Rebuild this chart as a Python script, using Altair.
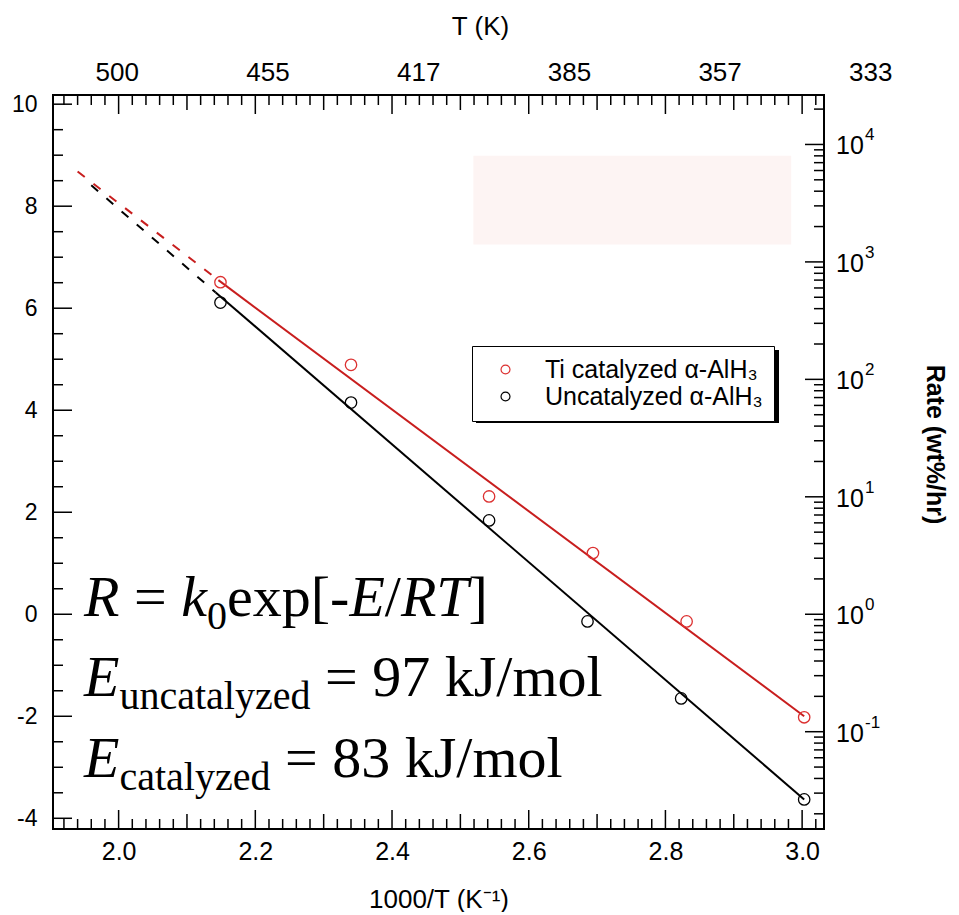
import math
import altair as alt
import pandas as pd

# ---------------- values ----------------
series_names = ["Ti catalyzed α-AlH₃", "Uncatalyzed α-AlH₃"]

inv_T_cat = [2.149, 2.340, 2.542, 2.694, 2.831, 3.003]
ln_rate_cat = [6.51, 4.89, 2.31, 1.20, -0.14, -2.02]
inv_T_unc = [2.149, 2.340, 2.542, 2.686, 2.823, 3.003]
ln_rate_unc = [6.11, 4.15, 1.84, -0.14, -1.65, -3.63]

# Arrhenius fits: [dashed start, solid start, solid end]
fit_x_cat = [1.940, 2.146, 3.003]
fit_y_cat = [8.68, 6.55, -2.00]
fit_x_unc = [1.960, 2.142, 3.003]
fit_y_unc = [8.41, 6.31, -3.63]

# faint empty box in the upper right of the plot
blank_box_x = [2.519, 2.984]
blank_box_y = [7.25, 8.99]

left_label_values = [-4, -2, 0, 2, 4, 6, 8, 10]
bottom_label_values = [2.0, 2.2, 2.4, 2.6, 2.8, 3.0]
top_tick_positions = [2.0, 2.2, 2.4, 2.6, 2.8, 3.0]
top_tick_labels = ["500", "455", "417", "385", "357", "333"]
right_decades = [-1, 0, 1, 2, 3, 4]

equation_pieces = [
    # (line, text, kind)  kind: i = italic, n = normal, s = subscript
    (0, "R", "i"), (0, "=", "n"), (0, "k", "i"), (0, "0", "s"), (0, "exp[-", "n"),
    (0, "E", "i"), (0, "/", "n"), (0, "RT", "i"), (0, "]", "n"),
    (1, "E", "i"), (1, "uncatalyzed", "s"), (1, "= 97 kJ/mol", "n"),
    (2, "E", "i"), (2, "catalyzed", "s"), (2, "= 83 kJ/mol", "n"),
]
equation_anchor_x = 1.9495
equation_line_y = [-0.04, -1.61, -3.20]

# ---------------- layout / style ----------------
W, H = 771, 734
XMIN, XMAX = 1.904, 3.032
YMIN, YMAX = -4.21, 10.18
RED_LINE = "#c81e1e"
RED_PT = "#dc3030"
SANS = "Liberation Sans"
SERIF = "Liberation Serif"
piece_dx = [0, 49.9, 97.1, 122.9, 142.9, 265.3, 300.7, 316.8, 384.5,
            0, 35.4, 240.9,
            0, 35.4, 200.9]
LEG_X, LEG_Y = 419, 251

xs = alt.Scale(domain=[XMIN, XMAX], nice=False, zero=False)
ys = alt.Scale(domain=[YMIN, YMAX], nice=False, zero=False)

xaxis = alt.Axis(values=bottom_label_values, format=".1f", ticks=False, domain=False,
                 grid=False, labelFont=SANS, labelFontSize=25, labelPadding=10,
                 labelFlush=False, labelColor="black",
                 title="1000/T (K⁻¹)", titleFont=SANS, titleFontSize=26,
                 titleFontWeight="normal", titlePadding=22, titleColor="black")
yaxis = alt.Axis(values=left_label_values, ticks=False, domain=False,
                 grid=False, labelFont=SANS, labelFontSize=23, labelPadding=16,
                 labelExpr="datum.value < 0 ? '-' + abs(datum.value) : '' + datum.value",
                 labelFlush=False, labelColor="black", title=None)

X = alt.X("x:Q", scale=xs, axis=xaxis)
Y = alt.Y("y:Q", scale=ys, axis=yaxis)

# ---------------- main group ----------------
pts = pd.DataFrame({
    "x": inv_T_cat + inv_T_unc,
    "y": ln_rate_cat + ln_rate_unc,
    "series": [series_names[0]] * len(inv_T_cat) + [series_names[1]] * len(inv_T_unc),
})

blank = alt.Chart(pd.DataFrame({"x": [blank_box_x[0]], "x2": [blank_box_x[1]],
                                "y": [blank_box_y[0]], "y2": [blank_box_y[1]]})
                  ).mark_rect(color="#fdf4f3").encode(x=X, x2="x2:Q", y=Y, y2="y2:Q")


def fit_layer(fx, fy, color, dashed):
    idx = [0, 1] if dashed else [1, 2]
    df = pd.DataFrame({"x": [fx[i] for i in idx], "y": [fy[i] for i in idx]})
    kw = dict(color=color, strokeWidth=2)
    if dashed:
        kw["strokeDash"] = [9, 11]
    return alt.Chart(df).mark_line(**kw).encode(x=X, y=Y)


lines = [
    fit_layer(fit_x_unc, fit_y_unc, "black", True),
    fit_layer(fit_x_cat, fit_y_cat, RED_LINE, True),
    fit_layer(fit_x_unc, fit_y_unc, "black", False),
    fit_layer(fit_x_cat, fit_y_cat, RED_LINE, False),
]

points = alt.Chart(pts).mark_point(shape="circle", filled=False, size=130, strokeWidth=1.3,
                                   opacity=1).encode(
    x=X, y=Y,
    color=alt.Color("series:N", scale=alt.Scale(domain=series_names, range=[RED_PT, "black"]),
                    legend=alt.Legend(orient="none", legendX=LEG_X, legendY=LEG_Y, title=None,
                                      labelFont=SANS, labelFontSize=25, labelColor="black",
                                      labelLimit=500,
                                      symbolSize=80, symbolStrokeWidth=1.2, symbolType="circle",
                                      strokeColor="black", fillColor="white", padding=11,
                                      labelOffset=27, symbolOffset=10, rowPadding=1)),
)

# drop shadow behind the legend box
legend_shadow = alt.Chart(pd.DataFrame({"a": [0]})).mark_rect(color="black").encode(
    x=alt.value(LEG_X + 4), x2=alt.value(LEG_X + 307),
    y=alt.value(LEG_Y + 4), y2=alt.value(LEG_Y + 77))

text_layers = []
for (line, txt, kind), dx in zip(equation_pieces, piece_dx):
    df = pd.DataFrame({"x": [equation_anchor_x], "y": [equation_line_y[line]]})
    text_layers.append(alt.Chart(df).mark_text(
        text=txt, font=SERIF, fontSize=40 if kind == "s" else 58,
        fontStyle="italic" if kind == "i" else "normal",
        align="left", baseline="alphabetic", dx=dx, dy=13 if kind == "s" else 0,
        color="black").encode(x=X, y=Y))

# inward frame ticks (left, bottom, top) on the main scales
left_ticks = pd.DataFrame({"y": [j / 2 for j in range(-8, 21)],
                           "len": [19 if j % 4 == 0 else 10 for j in range(-8, 21)]})
bx = [i / 50 for i in range(96, 152)]
blen = [19 if i % 10 == 0 else (15 if i % 5 == 0 else 10) for i in range(96, 152)]
bottom_ticks = pd.DataFrame({"x": bx, "len": blen})

tick_layers = []
for L in sorted(set(left_ticks["len"])):
    d = left_ticks[left_ticks["len"] == L]
    tick_layers.append(alt.Chart(d).mark_rule(color="black", strokeWidth=1.5).encode(
        y=Y, x=alt.value(0), x2=alt.value(L)))
for L in sorted(set(bottom_ticks["len"])):
    d = bottom_ticks[bottom_ticks["len"] == L]
    tick_layers.append(alt.Chart(d).mark_rule(color="black", strokeWidth=1.5).encode(
        x=X, y=alt.value(H), y2=alt.value(H - L)))
    tick_layers.append(alt.Chart(d).mark_rule(color="black", strokeWidth=1.5).encode(
        x=X, y=alt.value(0), y2=alt.value(L)))

main = alt.layer(blank, *lines, legend_shadow, points, *text_layers, *tick_layers)

# ---------------- top (T) and right (rate) group ----------------
rate_lo, rate_hi = math.exp(YMIN), math.exp(YMAX)
x2s = alt.Scale(domain=[1.91466, 2.93790], nice=False, zero=False)
y2s = alt.Scale(type="log", domain=[rate_lo, rate_hi], nice=False)
top_axis = alt.Axis(orient="top", labels=False, ticks=False, domain=False, grid=False,
                    title="T (K)", titleFont=SANS, titleFontSize=26, titleFontWeight="normal",
                    titleColor="black", titleX=427, titleY=-61, titleBaseline="alphabetic")
right_axis = alt.Axis(orient="right", labels=False, ticks=False, domain=False, grid=False,
                      title="Rate (wt%/hr)", titleFont=SANS, titleFontSize=25,
                      titleFontWeight="bold", titleColor="black", titleAngle=90,
                      titleX=110, titleY=349, titleBaseline="middle", titleAlign="center")
X2 = alt.X("x:Q", scale=x2s, axis=top_axis)
Y2 = alt.Y("rate:Q", scale=y2s, axis=right_axis)

top_labels = alt.Chart(pd.DataFrame({"x": top_tick_positions, "lab": top_tick_labels})
                       ).mark_text(font=SANS, fontSize=26, baseline="alphabetic",
                                   align="center", color="black").encode(
    x=X2, y=alt.value(-14), text="lab:N")

rt = []
for k in range(-2, 5):
    for m in range(1, 10):
        r = m * 10.0 ** k
        if rate_lo <= r <= rate_hi:
            rt.append((r, 19 if m == 1 else 10))
right_ticks = pd.DataFrame(rt, columns=["rate", "len"])
right_layers = []
for L in sorted(set(right_ticks["len"])):
    d = right_ticks[right_ticks["len"] == L]
    right_layers.append(alt.Chart(d).mark_rule(color="black", strokeWidth=1.5).encode(
        y=Y2, x=alt.value(W), x2=alt.value(W - L)))

rlab = pd.DataFrame({"rate": [10.0 ** k for k in right_decades],
                     "base": ["10"] * len(right_decades),
                     "exp": [str(k) for k in right_decades]})
right_base = alt.Chart(rlab).mark_text(font=SANS, fontSize=25, align="left", baseline="middle",
                                       dy=2, color="black").encode(
    y=Y2, x=alt.value(W + 12), text="base:N")
right_exp = alt.Chart(rlab).mark_text(font=SANS, fontSize=17, align="left", baseline="middle",
                                      dy=-9, color="black").encode(
    y=Y2, x=alt.value(W + 41), text="exp:N")

second = alt.layer(top_labels, *right_layers, right_base, right_exp)

chart = alt.layer(main, second).resolve_scale(x="independent", y="independent").properties(
    width=W, height=H, background="white",
    padding={"left": 3, "top": 5, "right": 5, "bottom": 0},
).configure_view(stroke="black", strokeWidth=2)

chart.save("out.html", embed_options={"renderer": "svg", "actions": False})
